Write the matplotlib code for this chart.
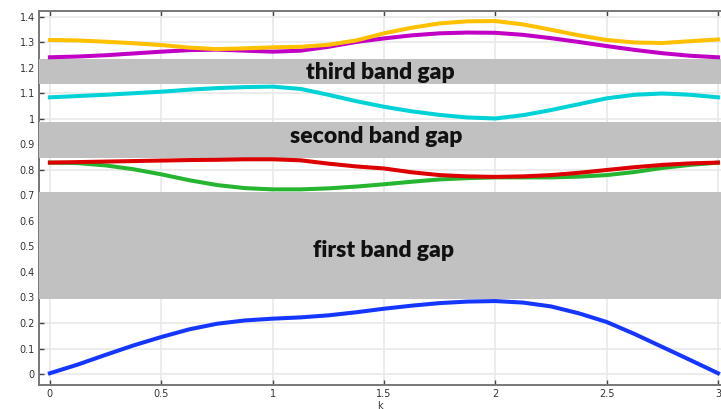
import matplotlib
matplotlib.use("Agg")
import matplotlib.pyplot as plt

# wave number samples along the band diagram
k = [0, 0.125, 0.25, 0.375, 0.5, 0.625, 0.75, 0.875, 1, 1.125, 1.25, 1.375, 1.5,
     1.625, 1.75, 1.875, 2, 2.125, 2.25, 2.375, 2.5, 2.625, 2.75, 2.875, 3]

# bands
band1 = [0.003, 0.037, 0.075, 0.112, 0.145, 0.175, 0.197, 0.210, 0.217, 0.222, 0.230, 0.242, 0.256,
         0.268, 0.278, 0.284, 0.286, 0.280, 0.265, 0.238, 0.204, 0.157, 0.106, 0.055, 0.003]
band2 = [0.829, 0.827, 0.818, 0.803, 0.783, 0.760, 0.741, 0.729, 0.724, 0.724, 0.728, 0.735, 0.744,
         0.754, 0.763, 0.768, 0.771, 0.771, 0.771, 0.774, 0.780, 0.792, 0.808, 0.820, 0.829]
band3 = [0.829, 0.831, 0.833, 0.835, 0.837, 0.839, 0.840, 0.842, 0.842, 0.838, 0.825, 0.814, 0.806,
         0.791, 0.780, 0.775, 0.773, 0.775, 0.780, 0.789, 0.800, 0.811, 0.820, 0.826, 0.829]
band4 = [1.085, 1.090, 1.095, 1.101, 1.107, 1.115, 1.121, 1.125, 1.127, 1.118, 1.095, 1.070, 1.048,
         1.030, 1.016, 1.006, 1.002, 1.015, 1.035, 1.058, 1.081, 1.095, 1.100, 1.095, 1.085]
band5 = [1.242, 1.245, 1.250, 1.257, 1.264, 1.270, 1.272, 1.268, 1.264, 1.268, 1.283, 1.302, 1.316,
         1.328, 1.336, 1.339, 1.338, 1.330, 1.317, 1.302, 1.286, 1.271, 1.258, 1.248, 1.242]
band6 = [1.310, 1.308, 1.303, 1.297, 1.290, 1.280, 1.274, 1.277, 1.281, 1.283, 1.291, 1.308, 1.336,
         1.358, 1.375, 1.383, 1.384, 1.371, 1.350, 1.328, 1.310, 1.300, 1.298, 1.305, 1.312]

bands = [band1, band2, band3, band4, band5, band6]
colors = ['#1536ff', '#26b531', '#dd0000', '#00d2d6', '#c000c4', '#ffc000']

# band gaps (lower, upper) and their labels
gaps = [(0.296, 0.712), (0.847, 0.989), (1.137, 1.237)]
gap_labels = ['first band gap', 'second band gap', 'third band gap']
label_pos = [(1.50, 0.486), (1.466, 0.933), (1.484, 1.184)]

fig = plt.figure(figsize=(7.21, 4.09), dpi=100)
ax = fig.add_axes([0.0541, 0.0587, 0.9459, 0.9144])

for y, c in zip(bands, colors):
    ax.plot(k, y, color=c, lw=2.9, solid_joinstyle='round', zorder=4)

for (lo, hi) in gaps:
    ax.axhspan(lo, hi, color='#c1c1c1', lw=0, zorder=3)

for txt, (x, y) in zip(gap_labels, label_pos):
    ax.text(x, y, txt, ha='center', va='center', fontsize=16.5,
            fontweight='heavy', family='Lato', color='#111111', zorder=5)

ax.set_xlim(-0.049, 3.0135)
ax.set_ylim(-0.0431, 1.4235)
ax.set_xticks([0, 0.5, 1, 1.5, 2, 2.5, 3])
ax.set_xticklabels(['0', '0.5', '1', '1.5', '2', '2.5', '3'])
ax.set_yticks([0, 0.1, 0.2, 0.3, 0.4, 0.5, 0.6, 0.7, 0.8, 0.9, 1, 1.1, 1.2, 1.3, 1.4])
ax.set_yticklabels(['0', '0.1', '0.2', '0.3', '0.4', '0.5', '0.6', '0.7', '0.8',
                    '0.9', '1', '1.1', '1.2', '1.3', '1.4'])
ax.grid(True, color='#e9e9e9', lw=1.2, zorder=0)
ax.set_axisbelow(True)
ax.tick_params(direction='in', length=3.5, width=1, color='#444444',
               labelsize=7, labelcolor='#333333', top=True, pad=3)
for side in ['left', 'bottom', 'top']:
    ax.spines[side].set_color('#777777')
    ax.spines[side].set_linewidth(1.4)
ax.spines['right'].set_visible(False)
ax.set_xlabel('k', fontsize=7, color='#333333', labelpad=1)

fig.savefig('out.png', dpi=100)
